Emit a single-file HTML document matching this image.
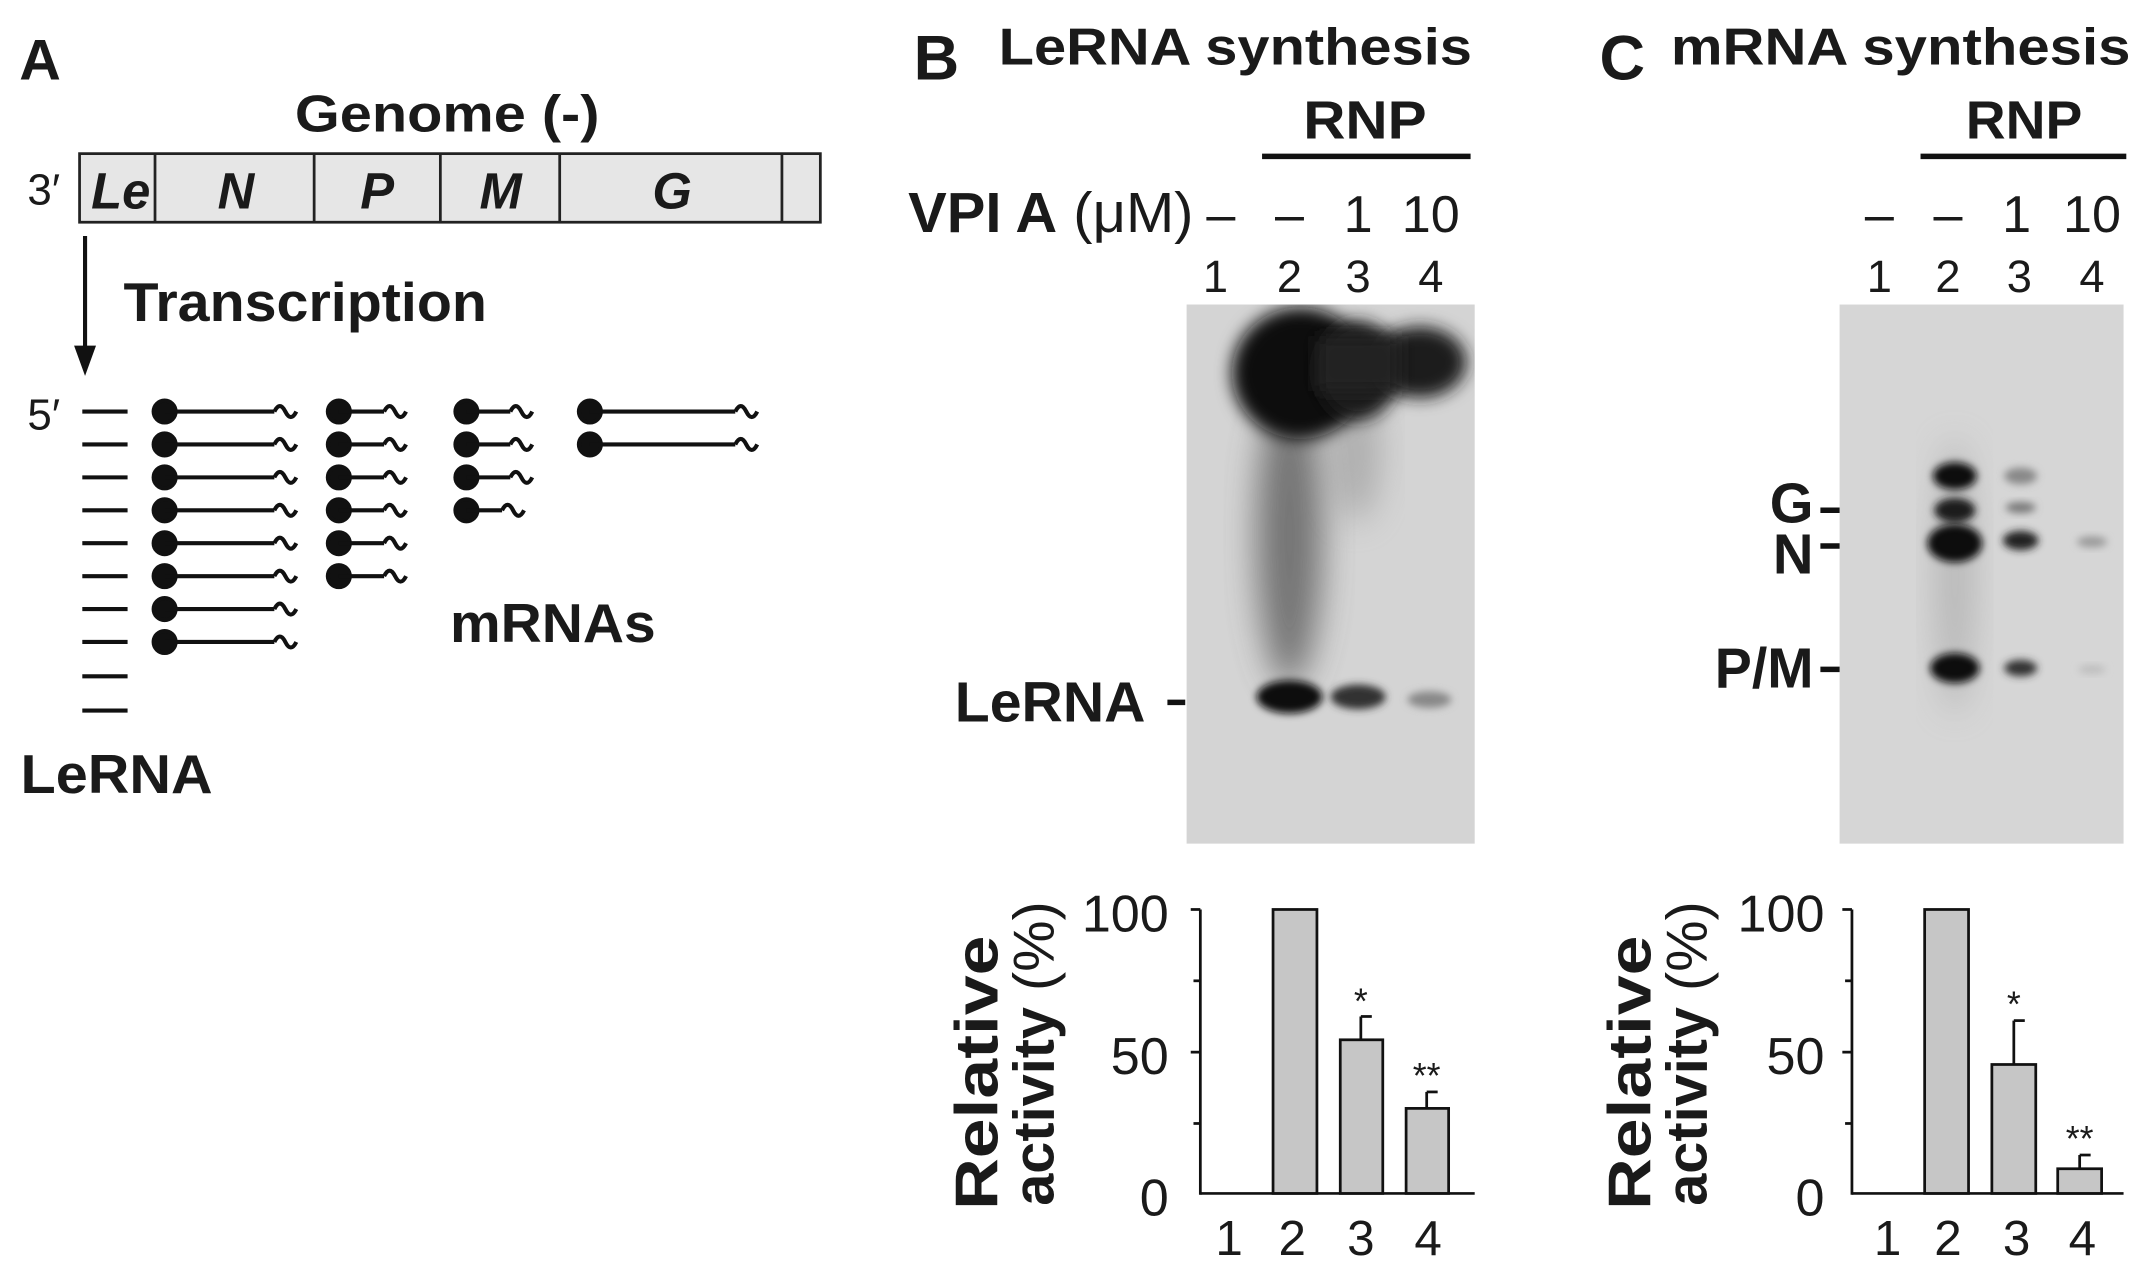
<!DOCTYPE html>
<html><head><meta charset="utf-8">
<style>
html,body{margin:0;padding:0;background:#fff;}
svg{display:block;}
text{font-family:"Liberation Sans",Arial,sans-serif;fill:#1a1a1a;}
.b{font-weight:bold;}
</style></head>
<body>
<svg width="2151" height="1273" viewBox="0 0 1568 928" preserveAspectRatio="none" xmlns="http://www.w3.org/2000/svg">
<defs>
<filter id="bl" x="-50%" y="-50%" width="200%" height="200%"><feGaussianBlur stdDeviation="6"/></filter>
<filter id="bl2" x="-50%" y="-50%" width="200%" height="200%"><feGaussianBlur stdDeviation="3"/></filter>
<filter id="bl3" x="-50%" y="-50%" width="200%" height="200%"><feGaussianBlur stdDeviation="12"/></filter>
<g id="sq"><path d="M0,0 q4,-8 8,0 t8,0" fill="none" stroke="#111" stroke-width="3"/></g>
<clipPath id="cb"><rect x="865" y="222" width="210" height="393"/></clipPath>
</defs>
<rect width="1568" height="928" fill="#fff"/>

<!-- Panel A -->
<text x="14" y="58" class="b" font-size="42">A</text>
<text x="215" y="96" class="b" font-size="38" textLength="222" lengthAdjust="spacingAndGlyphs">Genome (-)</text>
<rect x="58" y="112" width="540" height="50" fill="#e6e6e6" stroke="#222" stroke-width="2"/>
<g stroke="#222" stroke-width="2">
<line x1="113" y1="112" x2="113" y2="162"/><line x1="229" y1="112" x2="229" y2="162"/>
<line x1="321" y1="112" x2="321" y2="162"/><line x1="408" y1="112" x2="408" y2="162"/>
<line x1="570" y1="112" x2="570" y2="162"/>
</g>
<g font-size="37" text-anchor="middle">
<text x="88" y="152" class="b" font-style="italic">Le</text>
<text x="172" y="152" class="b" font-style="italic">N</text>
<text x="275" y="152" class="b" font-style="italic">P</text>
<text x="365" y="152" class="b" font-style="italic">M</text>
<text x="490" y="152" class="b" font-style="italic">G</text>
</g>
<text x="20" y="149" font-size="32">3′</text>
<line x1="62" y1="172" x2="62" y2="258" stroke="#111" stroke-width="3"/>
<polygon points="54,252 70,252 62,274" fill="#111"/>
<text x="90" y="234" class="b" font-size="40" textLength="265" lengthAdjust="spacingAndGlyphs">Transcription</text>
<text x="20" y="313" font-size="32">5′</text>
<g stroke="#111" stroke-width="3">
<line x1="60" y1="300" x2="93" y2="300"/><line x1="60" y1="324" x2="93" y2="324"/>
<line x1="60" y1="348" x2="93" y2="348"/><line x1="60" y1="372" x2="93" y2="372"/>
<line x1="60" y1="396" x2="93" y2="396"/><line x1="60" y1="420" x2="93" y2="420"/>
<line x1="60" y1="444" x2="93" y2="444"/><line x1="60" y1="468" x2="93" y2="468"/>
<line x1="60" y1="493" x2="93" y2="493"/><line x1="60" y1="518" x2="93" y2="518"/>
</g>
<text x="15" y="578" class="b" font-size="40" textLength="140" lengthAdjust="spacingAndGlyphs">LeRNA</text>
<g fill="#111" stroke="#111" stroke-width="3">
<g><circle cx="120" cy="300" r="8"/><line x1="120" y1="300" x2="200" y2="300"/><use href="#sq" x="200" y="300"/></g>
<g><circle cx="120" cy="324" r="8"/><line x1="120" y1="324" x2="200" y2="324"/><use href="#sq" x="200" y="324"/></g>
<g><circle cx="120" cy="348" r="8"/><line x1="120" y1="348" x2="200" y2="348"/><use href="#sq" x="200" y="348"/></g>
<g><circle cx="120" cy="372" r="8"/><line x1="120" y1="372" x2="200" y2="372"/><use href="#sq" x="200" y="372"/></g>
<g><circle cx="120" cy="396" r="8"/><line x1="120" y1="396" x2="200" y2="396"/><use href="#sq" x="200" y="396"/></g>
<g><circle cx="120" cy="420" r="8"/><line x1="120" y1="420" x2="200" y2="420"/><use href="#sq" x="200" y="420"/></g>
<g><circle cx="120" cy="444" r="8"/><line x1="120" y1="444" x2="200" y2="444"/><use href="#sq" x="200" y="444"/></g>
<g><circle cx="120" cy="468" r="8"/><line x1="120" y1="468" x2="200" y2="468"/><use href="#sq" x="200" y="468"/></g>
<g><circle cx="247" cy="300" r="8"/><line x1="247" y1="300" x2="280" y2="300"/><use href="#sq" x="280" y="300"/></g>
<g><circle cx="247" cy="324" r="8"/><line x1="247" y1="324" x2="280" y2="324"/><use href="#sq" x="280" y="324"/></g>
<g><circle cx="247" cy="348" r="8"/><line x1="247" y1="348" x2="280" y2="348"/><use href="#sq" x="280" y="348"/></g>
<g><circle cx="247" cy="372" r="8"/><line x1="247" y1="372" x2="280" y2="372"/><use href="#sq" x="280" y="372"/></g>
<g><circle cx="247" cy="396" r="8"/><line x1="247" y1="396" x2="280" y2="396"/><use href="#sq" x="280" y="396"/></g>
<g><circle cx="247" cy="420" r="8"/><line x1="247" y1="420" x2="280" y2="420"/><use href="#sq" x="280" y="420"/></g>
<g><circle cx="340" cy="300" r="8"/><line x1="340" y1="300" x2="372" y2="300"/><use href="#sq" x="372" y="300"/></g>
<g><circle cx="340" cy="324" r="8"/><line x1="340" y1="324" x2="372" y2="324"/><use href="#sq" x="372" y="324"/></g>
<g><circle cx="340" cy="348" r="8"/><line x1="340" y1="348" x2="372" y2="348"/><use href="#sq" x="372" y="348"/></g>
<g><circle cx="340" cy="372" r="8"/><line x1="340" y1="372" x2="366" y2="372"/><use href="#sq" x="366" y="372"/></g>
<g><circle cx="430" cy="300" r="8"/><line x1="430" y1="300" x2="536" y2="300"/><use href="#sq" x="536" y="300"/></g>
<g><circle cx="430" cy="324" r="8"/><line x1="430" y1="324" x2="536" y2="324"/><use href="#sq" x="536" y="324"/></g>
</g>
<text x="328" y="468" class="b" font-size="40" textLength="150" lengthAdjust="spacingAndGlyphs">mRNAs</text>

<!-- Panel B -->
<text x="666" y="58" class="b" font-size="46">B</text>
<text x="728" y="47" class="b" font-size="38" textLength="345" lengthAdjust="spacingAndGlyphs">LeRNA synthesis</text>
<text x="950" y="101" class="b" font-size="39" textLength="90" lengthAdjust="spacingAndGlyphs">RNP</text>
<line x1="920" y1="114" x2="1072" y2="114" stroke="#111" stroke-width="4"/>
<text x="662" y="169" font-size="41" textLength="208" lengthAdjust="spacingAndGlyphs"><tspan class="b">VPI A</tspan> (μM)</text>
<g font-size="38" text-anchor="middle">
<text x="890" y="169">–</text><text x="940" y="169">–</text><text x="990" y="169">1</text><text x="1043" y="169">10</text>
</g>
<g font-size="33" text-anchor="middle">
<text x="886" y="213">1</text><text x="940" y="213">2</text><text x="990" y="213">3</text><text x="1043" y="213">4</text>
</g>
<rect x="865" y="222" width="210" height="393" fill="#d4d4d4"/>
<g clip-path="url(#cb)">
<ellipse cx="940" cy="390" rx="24" ry="110" fill="#555" filter="url(#bl3)" opacity="0.75"/>
<ellipse cx="988" cy="330" rx="18" ry="50" fill="#888" filter="url(#bl3)" opacity="0.5"/>
<ellipse cx="948" cy="272" rx="50" ry="48" fill="#111" filter="url(#bl)"/>
<ellipse cx="990" cy="270" rx="30" ry="36" fill="#1a1a1a" filter="url(#bl)"/>
<ellipse cx="1035" cy="264" rx="34" ry="26" fill="#1a1a1a" filter="url(#bl)"/>
<rect x="960" y="245" width="60" height="40" fill="#222" filter="url(#bl)"/>
<ellipse cx="940" cy="508" rx="24" ry="12" fill="#111" filter="url(#bl2)"/>
<ellipse cx="990" cy="508" rx="20" ry="9" fill="#333" filter="url(#bl2)"/>
<ellipse cx="1042" cy="510" rx="16" ry="6" fill="#888" filter="url(#bl2)"/>
</g>
<text x="696" y="526" class="b" font-size="41" textLength="139" lengthAdjust="spacingAndGlyphs">LeRNA</text>
<line x1="851" y1="512" x2="864" y2="512" stroke="#111" stroke-width="4"/>

<!-- Chart B -->
<g stroke="#111" stroke-width="2" fill="none">
<line x1="875" y1="663" x2="875" y2="871"/><line x1="875" y1="870" x2="1075" y2="870"/>
<line x1="868" y1="663" x2="875" y2="663"/><line x1="870" y1="715" x2="875" y2="715"/>
<line x1="868" y1="767" x2="875" y2="767"/><line x1="870" y1="819" x2="875" y2="819"/>
</g>
<g font-size="38" text-anchor="end"><text x="852" y="679">100</text><text x="852" y="783">50</text><text x="852" y="886">0</text></g>
<g fill="#c6c6c6" stroke="#111" stroke-width="2">
<rect x="928" y="663" width="32" height="207"/>
<rect x="977" y="758" width="31" height="112"/>
<rect x="1025" y="808" width="31" height="62"/>
</g>
<g stroke="#111" stroke-width="2">
<line x1="992" y1="758" x2="992" y2="741"/><line x1="992" y1="741" x2="1000" y2="741"/>
<line x1="1040" y1="808" x2="1040" y2="796"/><line x1="1040" y1="796" x2="1048" y2="796"/>
</g>
<g font-size="26" text-anchor="middle"><text x="992" y="739">*</text><text x="1040" y="793">**</text></g>
<g font-size="36" text-anchor="middle"><text x="896" y="915">1</text><text x="942" y="915">2</text><text x="992" y="915">3</text><text x="1041" y="915">4</text></g>
<g transform="translate(727,782) rotate(-90)"><text x="0" y="0" class="b" font-size="44" text-anchor="middle" textLength="200" lengthAdjust="spacingAndGlyphs">Relative</text></g>
<g transform="translate(768,768) rotate(-90)"><text x="0" y="0" font-size="42" text-anchor="middle" textLength="222" lengthAdjust="spacingAndGlyphs"><tspan class="b">activity</tspan> (%)</text></g>

<!-- Panel C -->
<text x="1166" y="58" class="b" font-size="46">C</text>
<text x="1218" y="47" class="b" font-size="38" textLength="335" lengthAdjust="spacingAndGlyphs">mRNA synthesis</text>
<text x="1433" y="101" class="b" font-size="39" textLength="85" lengthAdjust="spacingAndGlyphs">RNP</text>
<line x1="1400" y1="114" x2="1550" y2="114" stroke="#111" stroke-width="4"/>
<g font-size="38" text-anchor="middle">
<text x="1370" y="169">–</text><text x="1420" y="169">–</text><text x="1470" y="169">1</text><text x="1525" y="169">10</text>
</g>
<g font-size="33" text-anchor="middle">
<text x="1370" y="213">1</text><text x="1420" y="213">2</text><text x="1472" y="213">3</text><text x="1525" y="213">4</text>
</g>
<rect x="1341" y="222" width="207" height="393" fill="#d6d6d6"/>
<g>
<ellipse cx="1425" cy="420" rx="14" ry="100" fill="#999" filter="url(#bl3)" opacity="0.5"/>
<ellipse cx="1425" cy="347" rx="16" ry="10" fill="#111" filter="url(#bl2)"/>
<ellipse cx="1425" cy="372" rx="15" ry="9" fill="#1a1a1a" filter="url(#bl2)"/>
<ellipse cx="1425" cy="396" rx="20" ry="14" fill="#0d0d0d" filter="url(#bl2)"/>
<ellipse cx="1425" cy="487" rx="18" ry="11" fill="#111" filter="url(#bl2)"/>
<ellipse cx="1473" cy="347" rx="12" ry="6" fill="#888" filter="url(#bl2)"/>
<ellipse cx="1473" cy="370" rx="11" ry="4" fill="#777" filter="url(#bl2)"/>
<ellipse cx="1473" cy="394" rx="13" ry="7" fill="#222" filter="url(#bl2)"/>
<ellipse cx="1473" cy="487" rx="12" ry="6" fill="#333" filter="url(#bl2)"/>
<ellipse cx="1525" cy="395" rx="11" ry="4" fill="#999" filter="url(#bl2)"/>
<ellipse cx="1525" cy="488" rx="10" ry="3" fill="#bbb" filter="url(#bl2)"/>
</g>
<text x="1322" y="381" class="b" font-size="41" text-anchor="end">G</text>
<text x="1322" y="418" class="b" font-size="41" text-anchor="end">N</text>
<text x="1250" y="501" class="b" font-size="41" textLength="72" lengthAdjust="spacingAndGlyphs">P/M</text>
<g stroke="#111" stroke-width="4">
<line x1="1327" y1="372" x2="1341" y2="372"/><line x1="1327" y1="398" x2="1341" y2="398"/>
<line x1="1327" y1="488" x2="1341" y2="488"/>
</g>

<!-- Chart C -->
<g stroke="#111" stroke-width="2" fill="none">
<line x1="1350" y1="663" x2="1350" y2="871"/><line x1="1350" y1="870" x2="1548" y2="870"/>
<line x1="1343" y1="663" x2="1350" y2="663"/><line x1="1345" y1="715" x2="1350" y2="715"/>
<line x1="1343" y1="767" x2="1350" y2="767"/><line x1="1345" y1="819" x2="1350" y2="819"/>
</g>
<g font-size="38" text-anchor="end"><text x="1330" y="679">100</text><text x="1330" y="783">50</text><text x="1330" y="886">0</text></g>
<g fill="#c6c6c6" stroke="#111" stroke-width="2">
<rect x="1403" y="663" width="32" height="207"/>
<rect x="1452" y="776" width="32" height="94"/>
<rect x="1500" y="852" width="32" height="18"/>
</g>
<g stroke="#111" stroke-width="2">
<line x1="1468" y1="776" x2="1468" y2="744"/><line x1="1468" y1="744" x2="1476" y2="744"/>
<line x1="1516" y1="852" x2="1516" y2="842"/><line x1="1516" y1="842" x2="1524" y2="842"/>
</g>
<g font-size="26" text-anchor="middle"><text x="1468" y="741">*</text><text x="1516" y="839">**</text></g>
<g font-size="36" text-anchor="middle"><text x="1376" y="915">1</text><text x="1420" y="915">2</text><text x="1470" y="915">3</text><text x="1518" y="915">4</text></g>
<g transform="translate(1203,782) rotate(-90)"><text x="0" y="0" class="b" font-size="44" text-anchor="middle" textLength="200" lengthAdjust="spacingAndGlyphs">Relative</text></g>
<g transform="translate(1244,768) rotate(-90)"><text x="0" y="0" font-size="42" text-anchor="middle" textLength="222" lengthAdjust="spacingAndGlyphs"><tspan class="b">activity</tspan> (%)</text></g>
</svg>
</body></html>
